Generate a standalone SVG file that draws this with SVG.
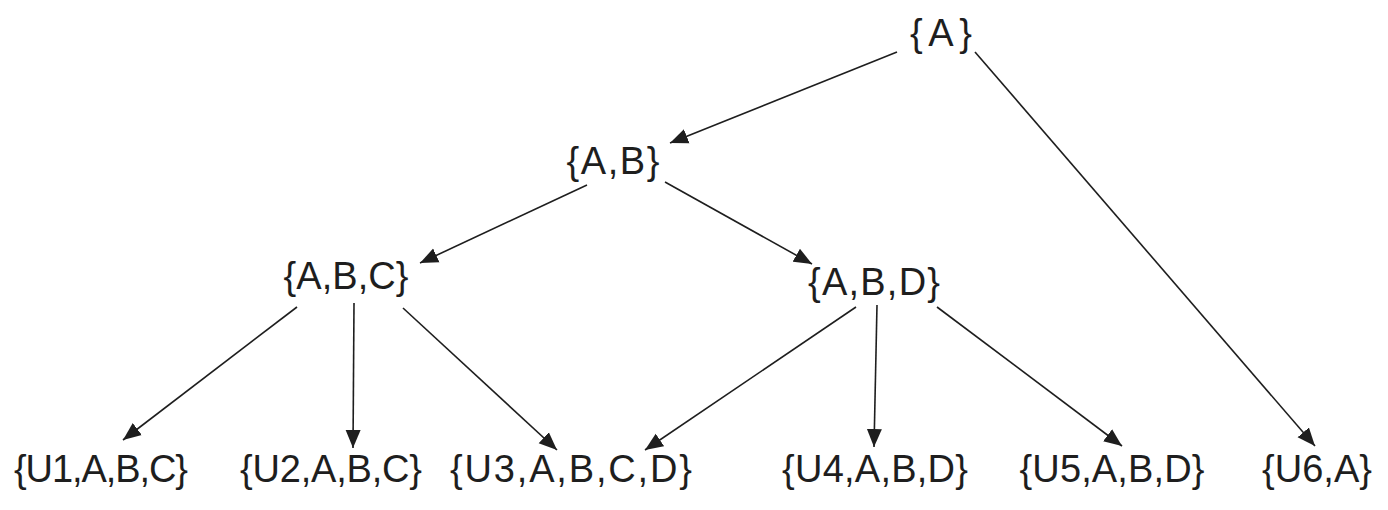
<svg xmlns="http://www.w3.org/2000/svg" width="1388" height="510" viewBox="0 0 1388 510">
<style>
.lbl{font-family:"Liberation Sans",Arial,sans-serif;font-size:38px;fill:#1e1e1e;text-anchor:middle}
.edge{stroke:#1e1e1e;stroke-width:1.6;fill:none;marker-end:url(#ah)}
</style>
<defs>
<marker id="ah" markerUnits="userSpaceOnUse" markerWidth="19" markerHeight="16" refX="18" refY="8" orient="auto">
<path d="M0,0.5 L18,8 L0,15.5 Z" fill="#1e1e1e"/>
</marker>
</defs>
<rect width="1388" height="510" fill="#ffffff"/>
<g id="connectors">
<line class="edge" x1="897" y1="52" x2="670" y2="143"/>
<line class="edge" x1="975" y1="52" x2="1315" y2="446"/>
<line class="edge" x1="587" y1="185" x2="420" y2="263"/>
<line class="edge" x1="665" y1="182" x2="812" y2="264"/>
<line class="edge" x1="297" y1="307" x2="123" y2="440"/>
<line class="edge" x1="354" y1="303" x2="353" y2="448"/>
<line class="edge" x1="403" y1="308" x2="557" y2="450"/>
<line class="edge" x1="856" y1="307" x2="645" y2="450"/>
<line class="edge" x1="877" y1="305" x2="874" y2="447"/>
<line class="edge" x1="937" y1="307" x2="1122" y2="446"/>
</g>
<g id="n-A"><text class="lbl" x="941" y="46" textLength="62">{A}</text></g>
<g id="n-AB"><text class="lbl" x="613" y="174" textLength="93">{A,B}</text></g>
<g id="n-ABC"><text class="lbl" x="346" y="289" textLength="125">{A,B,C}</text></g>
<g id="n-ABD"><text class="lbl" x="874" y="295" textLength="132">{A,B,D}</text></g>
<g id="n-U1"><text class="lbl" x="101" y="482" textLength="174">{U1,A,B,C}</text></g>
<g id="n-U2"><text class="lbl" x="331" y="482" textLength="182">{U2,A,B,C}</text></g>
<g id="n-U3"><text class="lbl" x="571" y="482" textLength="242">{U3,A,B,C,D}</text></g>
<g id="n-U4"><text class="lbl" x="875" y="482" textLength="186">{U4,A,B,D}</text></g>
<g id="n-U5"><text class="lbl" x="1112" y="482" textLength="185">{U5,A,B,D}</text></g>
<g id="n-U6"><text class="lbl" x="1317" y="482" textLength="110">{U6,A}</text></g>
</svg>
